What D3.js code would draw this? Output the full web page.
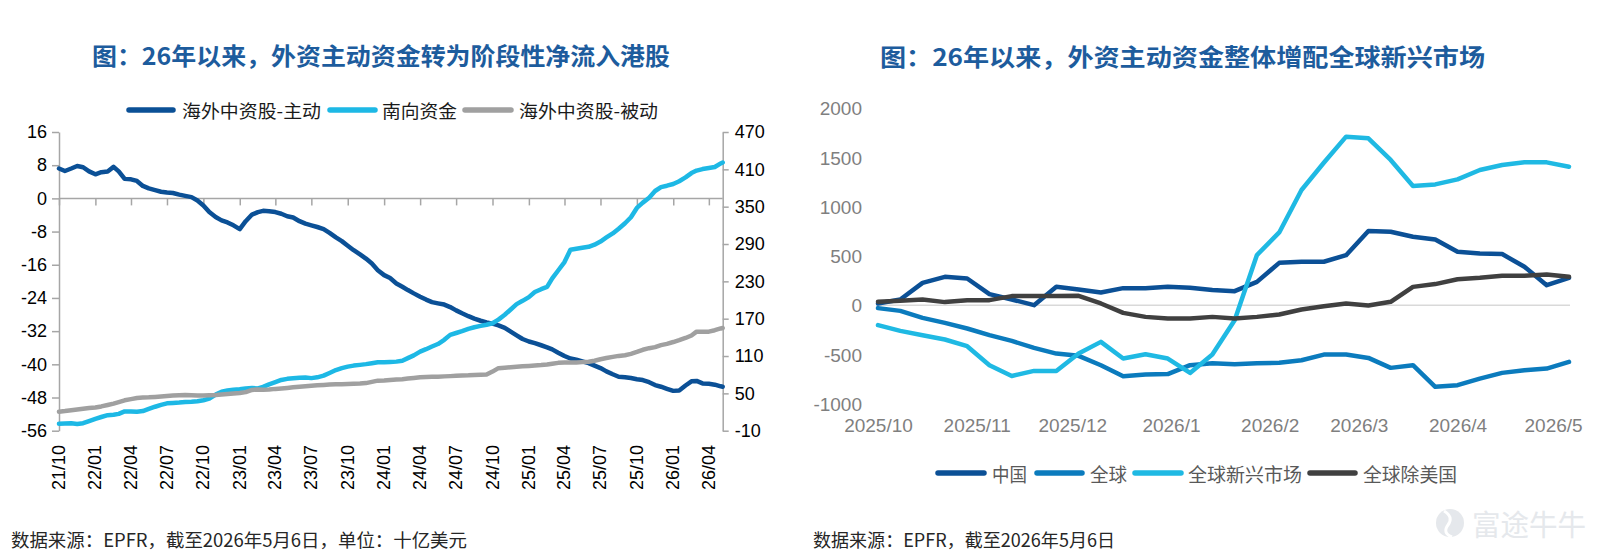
<!DOCTYPE html>
<html><head><meta charset="utf-8">
<script src="https://cdn.jsdelivr.net/npm/d3@7"></script>
<style>body{margin:0;background:#fff}svg{display:block}</style>
</head><body><svg id="c" width="1600" height="556"></svg>
<script>
const FONT = '"Liberation Sans", Arial, "Noto Sans CJK SC", sans-serif';
const CJK = '"Noto Sans CJK SC", "Liberation Sans", sans-serif';

// ---------- LEFT CHART DATA ----------
const leftTitle = "图：26年以来，外资主动资金转为阶段性净流入港股";
const leftSeriesNames = ["海外中资股-主动", "南向资金", "海外中资股-被动"];
const leftStart = "2021-10-01", leftEnd = "2026-05-06";
const leftXTickLabels = ["21/10","22/01","22/04","22/07","22/10","23/01","23/04","23/07","23/10","24/01","24/04","24/07","24/10","25/01","25/04","25/07","25/10","26/01","26/04"];
const leftYTicks = [16, 8, 0, -8, -16, -24, -32, -40, -48, -56];
const rightYTicksOfLeft = [470, 410, 350, 290, 230, 170, 110, 50, -10];
// semi-monthly observations (1st & 16th of each month, then 2026-05-01, 2026-05-06)
const activeHK = [7.2,6.6,7.2,7.8,7.5,6.5,5.8,6.3,6.5,7.6,6.5,4.7,4.6,4.2,3.0,2.4,2.0,1.6,1.4,1.3,0.9,0.6,0.3,-0.5,-1.7,-3.3,-4.5,-5.3,-5.8,-6.5,-7.4,-5.5,-3.9,-3.3,-3.0,-3.1,-3.3,-3.7,-4.3,-4.6,-5.5,-6.1,-6.5,-6.9,-7.4,-8.3,-9.4,-10.3,-11.4,-12.5,-13.5,-14.5,-15.7,-17.3,-18.5,-19.2,-20.5,-21.3,-22.1,-22.9,-23.7,-24.4,-25.0,-25.3,-25.6,-26.2,-27.0,-27.7,-28.4,-29.0,-29.5,-29.9,-30.2,-30.6,-31.2,-32.1,-33.0,-33.9,-34.5,-34.9,-35.4,-35.9,-36.4,-37.2,-38.0,-38.6,-38.9,-39.3,-39.7,-40.3,-40.9,-41.7,-42.4,-43.0,-43.1,-43.3,-43.6,-43.8,-44.3,-45.0,-45.4,-45.9,-46.4,-46.3,-45.1,-44.1,-44.0,-44.6,-44.7,-44.9,-45.3,-45.4];
const southbound = [1,1.5,1.8,0.8,2,5.5,9,12,15,15.5,17,21,21,20.5,21.5,25,28.5,31.5,34,34.7,35.2,36,36.4,37.3,39,41.5,48,52.5,54.5,55.8,56.5,58,58.5,58,60.5,64.5,68,71.5,73.3,74.2,75.2,75.5,74.5,75.8,78.5,82.8,87.5,90.6,93,94.6,95.8,97,98.5,100,100,100.5,101,102.5,106.6,111,117,121,125.3,129.3,136,144,147,150,153.6,156.2,158.4,160.3,162.7,168.5,176.3,184.8,193.4,198.7,204.7,212.8,217.4,221,234.7,247.4,261,280.7,282.3,283.9,285.5,289,294,300.5,307,314.6,323.4,333,348,356.5,364.5,375.2,381.4,383.7,386.5,390.9,397,404,408,410.4,412,413.7,419.5,421];
const passiveHK = [20.5,21.5,22.8,24,25.3,26.5,27.3,29,31.4,33.6,36,38.8,40.8,42.6,43.2,43.6,44.3,45,45.8,46.4,47,47.3,46.9,46.5,46.5,47,47.5,48.3,49,49.8,50.5,52,55.5,56.3,55.8,56.2,57.2,57.9,58.8,59.7,60.6,61.5,62.3,63,63.6,64.2,64.6,64.8,65,65.4,65.7,66.5,68.5,70.4,70.8,71.5,72.3,72.8,73.8,74.8,75.9,76.2,76.5,76.8,77.3,77.7,78.2,78.7,79,79.5,79.9,80.4,85,90.5,91.3,92,92.7,93.4,94.1,94.7,95.4,96.3,97.6,99,99.4,99.4,99.6,100.2,100.8,102.5,104.8,106.7,108.6,110.2,111.3,113.5,116.6,120,122.6,124.3,127.5,129.6,132.5,135.5,139,143,149.2,149.2,149.2,151.5,154.3,155];
const leftSource = "数据来源：EPFR，截至2026年5月6日，单位：十亿美元";

// ---------- RIGHT CHART DATA ----------
const rightTitle = "图：26年以来，外资主动资金整体增配全球新兴市场";
const rightSeriesNames = ["中国", "全球", "全球新兴市场", "全球除美国"];
const rightStart = "2025-10-01", rightEnd = "2026-05-06";
const rightXTickLabels = ["2025/10","2025/11","2025/12","2026/1","2026/2","2026/3","2026/4","2026/5"];
const rightYTicks = [2000, 1500, 1000, 500, 0, -500, -1000];
// weekly observations starting 2025-10-01
const china    = [17,58,227,288,271,112,58,0,186,159,129,173,173,186,176,153,142,237,430,441,441,508,753,746,695,668,542,525,519,390,203,278];
const globalW  = [-30,-58,-129,-180,-237,-305,-363,-434,-492,-515,-610,-722,-705,-700,-610,-590,-600,-590,-585,-560,-502,-502,-536,-637,-610,-830,-813,-746,-688,-661,-644,-576];
const emerging = [-203,-261,-305,-349,-417,-610,-719,-668,-668,-492,-373,-542,-498,-542,-688,-502,-153,509,739,1170,1447,1712,1695,1475,1210,1227,1278,1373,1424,1451,1451,1407];
const exUS     = [34,44,58,31,51,51,92,92,92,95,17,-78,-119,-136,-136,-119,-136,-119,-95,-44,-10,17,-3,34,186,214,264,278,298,298,312,288];
const rightSource = "数据来源：EPFR，截至2026年5月6日";
const watermark = "富途牛牛";

// ---------- helpers ----------
const parseD = d3.timeParse("%Y-%m-%d");
const parseYM = d3.timeParse("%y/%m");
const parseYM2 = d3.timeParse("%Y/%m");
const svg = d3.select("#c");
svg.append("rect").attr("width",1600).attr("height",556).attr("fill","#fff");

// left category dates (semi-monthly)
const leftDates = [];
d3.timeMonth.range(parseD(leftStart), parseD("2026-05-01")).forEach(m => {
  leftDates.push(m);
  leftDates.push(d3.timeDay.offset(m, 15));
});
leftDates.push(parseD("2026-05-01"), parseD(leftEnd));

const rightDates = d3.range(china.length).map(i => d3.timeDay.offset(parseD(rightStart), 7 * i));

// ---------- LEFT CHART ----------
const xL = d3.scaleTime().domain([parseD(leftStart), parseD(leftEnd)]).range([59, 722.7]);
const yL = d3.scaleLinear().domain([-56, 16]).range([430.7, 132]);
const yR = d3.scaleLinear().domain([-10, 470]).range([430.7, 132]);
const AXC = "#a6a6a6";

svg.append("text").text(leftTitle)
  .attr("x", 92).attr("y", 54).attr("dominant-baseline", "central")
  .attr("textLength", 578).attr("lengthAdjust", "spacingAndGlyphs")
  .style("font-family", CJK).style("font-weight", 700).style("font-size", "24px").attr("fill", "#1d5c9d");

const gLA = svg.append("g").attr("transform", "translate(59,0)")
  .call(d3.axisLeft(yL).tickValues(leftYTicks).tickSize(7).tickSizeOuter(0).tickPadding(5).tickFormat(d => String(d)));
const gRA = svg.append("g").attr("transform", "translate(722.7,0)")
  .call(d3.axisRight(yR).tickValues(rightYTicksOfLeft).tickSize(6).tickSizeOuter(0).tickPadding(6).tickFormat(d => String(d)));
const leftTickDates = leftXTickLabels.map(s => parseYM(s));
const gXA = svg.append("g").attr("transform", `translate(0,${yL(0)})`)
  .call(d3.axisBottom(xL).tickValues(leftTickDates).tickSize(7).tickSizeOuter(0).tickFormat(""));
[gLA, gRA, gXA].forEach(g => {
  g.select(".domain").attr("stroke", AXC).attr("stroke-width", 1.5);
  g.selectAll(".tick line").attr("stroke", AXC).attr("stroke-width", 1.5);
  g.selectAll(".tick text").style("font-family", FONT).style("font-size", "18px").attr("fill", "#000");
});
gXA.select(".domain").attr("d", `M59,0H722.7`);

svg.append("g").selectAll("text").data(leftXTickLabels).join("text")
  .text(d => d)
  .attr("x", d => xL(parseYM(d))).attr("y", 445)
  .attr("transform", d => `rotate(-90,${xL(parseYM(d))},445)`)
  .attr("text-anchor", "end").attr("dominant-baseline", "central")
  .style("font-family", FONT).style("font-size", "18px").attr("fill", "#000");

const leftColors = ["#0b5096", "#1db8e5", "#a0a0a0"];
const leftSeries = [
  { vals: activeHK, y: yL, c: leftColors[0] },
  { vals: southbound, y: yR, c: leftColors[1] },
  { vals: passiveHK, y: yR, c: leftColors[2] }
];
leftSeries.forEach(s => {
  const line = d3.line().x((d, i) => xL(leftDates[i])).y(d => s.y(d));
  svg.append("path").attr("d", line(s.vals)).attr("fill", "none")
    .attr("stroke", s.c).attr("stroke-width", 4.5).attr("stroke-linejoin", "round").attr("stroke-linecap", "round");
});

const leftLeg = [
  { sw: [129, 173], tx: 182, tl: 139 },
  { sw: [330, 375], tx: 382, tl: 75 },
  { sw: [465, 511], tx: 519, tl: 139 }
];
leftLeg.forEach((L, i) => {
  svg.append("line").attr("x1", L.sw[0]).attr("x2", L.sw[1]).attr("y1", 110).attr("y2", 110)
    .attr("stroke", leftColors[i]).attr("stroke-width", 5.5).attr("stroke-linecap", "round");
  svg.append("text").text(leftSeriesNames[i]).attr("x", L.tx).attr("y", 110).attr("dominant-baseline", "central")
    .attr("textLength", L.tl).attr("lengthAdjust", "spacingAndGlyphs")
    .style("font-family", CJK).style("font-size", "18px").attr("fill", "#1a1a1a");
});

svg.append("text").text(leftSource).attr("x", 11).attr("y", 539).attr("dominant-baseline", "central")
  .attr("textLength", 456).attr("lengthAdjust", "spacingAndGlyphs")
  .style("font-family", CJK).style("font-size", "18px").attr("fill", "#262626");

// ---------- RIGHT CHART ----------
const xR = d3.scaleTime().domain([parseD(rightStart), parseD(rightEnd)]).range([878, 1569]);
const yR2 = d3.scaleLinear().domain([-1000, 2000]).range([403.6, 108.3]);
const LBL = "#7f7f7f";

svg.append("text").text(rightTitle)
  .attr("x", 880).attr("y", 55).attr("dominant-baseline", "central")
  .attr("textLength", 605).attr("lengthAdjust", "spacingAndGlyphs")
  .style("font-family", CJK).style("font-weight", 700).style("font-size", "24px").attr("fill", "#1d5c9d");

const gRY = svg.append("g").attr("transform", "translate(870,0)")
  .call(d3.axisLeft(yR2).tickValues(rightYTicks).tickSize(0).tickPadding(8).tickFormat(d => String(d)));
gRY.select(".domain").remove();
gRY.selectAll(".tick text").style("font-family", FONT).style("font-size", "19px").attr("fill", LBL).attr("dy", "0.35em");

const rightTickDates = rightXTickLabels.map(s => parseYM2(s));
const gRX = svg.append("g").attr("transform", "translate(0,418)")
  .call(d3.axisBottom(xR).tickValues(rightTickDates).tickSize(0).tickPadding(0).tickFormat((d, i) => rightXTickLabels[i]));
gRX.select(".domain").remove();
gRX.selectAll(".tick text").style("font-family", FONT).style("font-size", "19px").attr("fill", LBL).attr("dy", "0.71em");

svg.append("line").attr("x1", xR.range()[0] - 1).attr("x2", xR.range()[1] + 1)
  .attr("y1", yR2(0)).attr("y2", yR2(0)).attr("stroke", "#d9d9d9").attr("stroke-width", 1.5);

const rightColors = ["#0b5096", "#0b7bbd", "#1fb9e3", "#404040"];
[china, globalW, emerging, exUS].forEach((vals, k) => {
  const line = d3.line().x((d, i) => xR(rightDates[i])).y(d => yR2(d));
  svg.append("path").attr("d", line(vals)).attr("fill", "none")
    .attr("stroke", rightColors[k]).attr("stroke-width", 4.5).attr("stroke-linejoin", "round").attr("stroke-linecap", "round");
});

const rightLeg = [
  { sw: [938, 984], tx: 992, tl: 35 },
  { sw: [1037, 1082], tx: 1090, tl: 37 },
  { sw: [1135, 1181], tx: 1188, tl: 114 },
  { sw: [1310, 1355], tx: 1363, tl: 94 }
];
rightLeg.forEach((L, i) => {
  svg.append("line").attr("x1", L.sw[0]).attr("x2", L.sw[1]).attr("y1", 473).attr("y2", 473)
    .attr("stroke", rightColors[i]).attr("stroke-width", 5.5).attr("stroke-linecap", "round");
  svg.append("text").text(rightSeriesNames[i]).attr("x", L.tx).attr("y", 473).attr("dominant-baseline", "central")
    .attr("textLength", L.tl).attr("lengthAdjust", "spacingAndGlyphs")
    .style("font-family", CJK).style("font-size", "19px").attr("fill", "#595959");
});

svg.append("text").text(rightSource).attr("x", 813).attr("y", 539).attr("dominant-baseline", "central")
  .attr("textLength", 302).attr("lengthAdjust", "spacingAndGlyphs")
  .style("font-family", CJK).style("font-size", "18px").attr("fill", "#262626");

// watermark
const wm = svg.append("g").attr("opacity", 0.9);
wm.append("circle").attr("cx", 1450).attr("cy", 523).attr("r", 14).attr("fill", "#e3e6ea");
wm.append("path").attr("d", "M1444,511 q10,6 4,14 q-6,8 4,12").attr("fill", "none").attr("stroke", "#fff").attr("stroke-width", 3);
wm.append("text").text(watermark).attr("x", 1472).attr("y", 523).attr("dominant-baseline", "central")
  .attr("textLength", 114).attr("lengthAdjust", "spacingAndGlyphs")
  .style("font-family", CJK).style("font-size", "29px").attr("fill", "#e3e6ea");
</script></body></html>
